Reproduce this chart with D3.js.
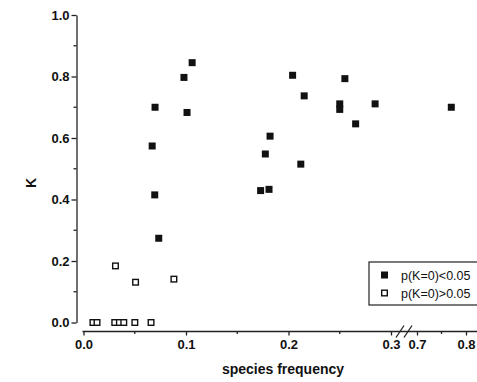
<!DOCTYPE html>
<html>
<head>
<meta charset="utf-8">
<script src="https://cdn.jsdelivr.net/npm/d3@7"></script>
<style>
  body { margin: 0; background: #fff; }
  svg { display: block; }
  .axis text { font-family: "Liberation Sans", Arial, sans-serif; font-weight: bold; font-size: 13px; fill: #111; }
  .axis line, .axis path { stroke: #222; stroke-width: 1.3; }
  .title { font-family: "Liberation Sans", Arial, sans-serif; font-weight: bold; font-size: 14px; fill: #111; }
  .legend text { font-family: "Liberation Sans", Arial, sans-serif; font-size: 12.5px; fill: #111; }
</style>
</head>
<body>
<div id="chart"></div>
<script>
// significant K (filled squares)
const sigFreq = [0.106, 0.098, 0.0698, 0.101, 0.067, 0.0695, 0.0734, 0.204, 0.2153, 0.255, 0.250, 0.250, 0.2845, 0.2655, 0.77, 0.182, 0.1774, 0.212, 0.1728, 0.181];
const sigK    = [0.845, 0.797, 0.70, 0.683, 0.574, 0.415, 0.274, 0.804, 0.737, 0.793, 0.711, 0.693, 0.711, 0.646, 0.70, 0.606, 0.548, 0.515, 0.429, 0.433];
// non significant K (open squares)
const nsFreq = [0.0312, 0.0508, 0.0882, 0.0092, 0.0132, 0.0305, 0.035, 0.0393, 0.0501, 0.0659];
const nsK    = [0.184, 0.131, 0.141, 0, 0, 0, 0, 0, 0, 0];

const yTicks = [0, 0.2, 0.4, 0.6, 0.8, 1.0];
const yMinor = [0.1, 0.3, 0.5, 0.7, 0.9];
const xTicks1 = [0, 0.1, 0.2, 0.3];
const xMinor1 = [0.05, 0.15, 0.25];
const xTicks2 = [0.7, 0.8];
const xMinor2 = [0.75];
const legendLabels = ["p(K=0)<0.05", "p(K=0)>0.05"];

const W = 477, H = 382;
const svg = d3.select("#chart").append("svg").attr("width", W).attr("height", H);

// broken x axis: two linear pieces
const x1 = d3.scaleLinear().domain([0, 0.3]).range([83.5, 391]);
const x2 = d3.scaleLinear().domain([0.7, 0.8]).range([417, 466]);
const x = v => v <= 0.5 ? x1(v) : x2(v);
const y = d3.scaleLinear().domain([0, 1]).range([322.5, 15]);

const yAxisX = 76.5, xAxisY = 331.5;

// y axis
const gy = svg.append("g").attr("class", "axis").attr("transform", "translate(" + yAxisX + ",0)");
gy.call(d3.axisLeft(y).tickValues(yTicks).tickFormat(d3.format(".1f")).tickSize(5).tickSizeOuter(0).tickPadding(2));
gy.selectAll(".minor").data(yMinor).enter().append("line")
  .attr("class", "minor").attr("x1", -3).attr("x2", 0)
  .attr("y1", d => y(d)).attr("y2", d => y(d));

// x axis (two groups, domain drawn by hand to run across the break)
const gx1 = svg.append("g").attr("class", "axis").attr("transform", "translate(0," + xAxisY + ")");
gx1.call(d3.axisBottom(x1).tickValues(xTicks1).tickFormat(d3.format(".1f")).tickSize(4).tickSizeOuter(0).tickPadding(4));
const gx2 = svg.append("g").attr("class", "axis").attr("transform", "translate(0," + xAxisY + ")");
gx2.call(d3.axisBottom(x2).tickValues(xTicks2).tickFormat(d3.format(".1f")).tickSize(4).tickSizeOuter(0).tickPadding(4));
gx1.select(".domain").remove();
gx2.select(".domain").remove();
gx1.selectAll(".minor").data(xMinor1).enter().append("line")
  .attr("class", "minor").attr("x1", d => x1(d)).attr("x2", d => x1(d)).attr("y1", 0).attr("y2", 2.5);
gx2.selectAll(".minor").data(xMinor2).enter().append("line")
  .attr("class", "minor").attr("x1", d => x2(d)).attr("x2", d => x2(d)).attr("y1", 0).attr("y2", 2.5);
gx1.append("line").attr("x1", x1(0) - 1).attr("x2", W + 5).attr("y1", 0).attr("y2", 0);

// break marks
const brk = (x1(0.3) + x2(0.7)) / 2;
[-4, 4].forEach(dx => {
  gx1.append("line")
    .attr("x1", brk + dx - 4).attr("y1", 6)
    .attr("x2", brk + dx + 4).attr("y2", -6);
});

// points
const sq = 7;
svg.append("g").selectAll("rect").data(d3.zip(sigFreq, sigK)).enter().append("rect")
  .attr("x", d => x(d[0]) - sq / 2).attr("y", d => y(d[1]) - sq / 2)
  .attr("width", sq).attr("height", sq).attr("fill", "#111");
svg.append("g").selectAll("rect").data(d3.zip(nsFreq, nsK)).enter().append("rect")
  .attr("x", d => x(d[0]) - (sq - 1.4) / 2).attr("y", d => y(d[1]) - (sq - 1.4) / 2)
  .attr("width", sq - 1.4).attr("height", sq - 1.4)
  .attr("fill", "#fff").attr("stroke", "#111").attr("stroke-width", 1.4);

// axis titles
svg.append("text").attr("class", "title")
  .attr("transform", "translate(36,183) rotate(-90)")
  .attr("text-anchor", "middle").text("K");
svg.append("text").attr("class", "title")
  .attr("x", 283).attr("y", 374).attr("text-anchor", "middle").text("species frequency");

// legend
const lg = svg.append("g").attr("class", "legend");
lg.append("rect").attr("x", 369).attr("y", 262).attr("width", 120).attr("height", 43)
  .attr("fill", "#fff").attr("stroke", "#222").attr("stroke-width", 1.2);
legendLabels.forEach((t, i) => {
  const cy = 275 + i * 18;
  if (i === 0) {
    lg.append("rect").attr("x", 381).attr("y", cy - 3.5).attr("width", 7).attr("height", 7).attr("fill", "#111");
  } else {
    lg.append("rect").attr("x", 381.7).attr("y", cy - 2.8).attr("width", 5.6).attr("height", 5.6)
      .attr("fill", "#fff").attr("stroke", "#111").attr("stroke-width", 1.4);
  }
  lg.append("text").attr("x", 401).attr("y", cy + 4.5).text(t);
});
</script>
</body>
</html>
